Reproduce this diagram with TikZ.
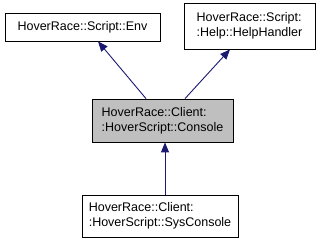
\documentclass[tikz,border=0pt]{standalone}
\usepackage{fontspec}
\setmainfont{Liberation Sans}
\usepackage{tikz}
\usetikzlibrary{positioning, arrows.meta}

\tikzset{
  cls/.style={draw=black, fill=white, line width=0.8pt, inner xsep=4pt,
    align=left, font=\fontsize{12.5pt}{15pt}\selectfont},
  inh/.style={draw={rgb,255:red,25;green,25;blue,112}, line width=0.9pt,
    {Triangle[length=10pt,width=8pt]}-}
}

\begin{document}
\begin{tikzpicture}[x=1pt, y=1pt]
    \useasboundingbox (0,0) rectangle (320,243);%

    % base classes
    \node [cls, minimum width=155pt, minimum height=28pt] (Env) at (82.5,216)
    {HoverRace::Script::Env};%
    \node [cls, minimum width=131pt, minimum height=46pt] (Help) at (249.5,217)
    {HoverRace::Script:\\:Help::HelpHandler};%

    % Console
    \node [cls, fill=black!25, minimum width=141pt, minimum height=43pt]
    (Console) at (162.5,122.5) {HoverRace::Client:\\:HoverScript::Console};%

    % SysConsole
    \node [cls, minimum width=156pt, minimum height=42pt] (SysConsole) at
    (160,27) {HoverRace::Client:\\:HoverScript::SysConsole};%

    % arrows
    \draw [inh] ([xshift=15.5pt]Env.south) -- ([xshift=-16.5pt]Console.north);%
    \draw [inh] ([xshift=-19.5pt]Help.south) -- ([xshift=22.5pt]Console.north);%
    \draw [inh] ([xshift=2.5pt]Console.south) -- ([xshift=5pt]SysConsole.north);
  \end{tikzpicture}
\end{document}
